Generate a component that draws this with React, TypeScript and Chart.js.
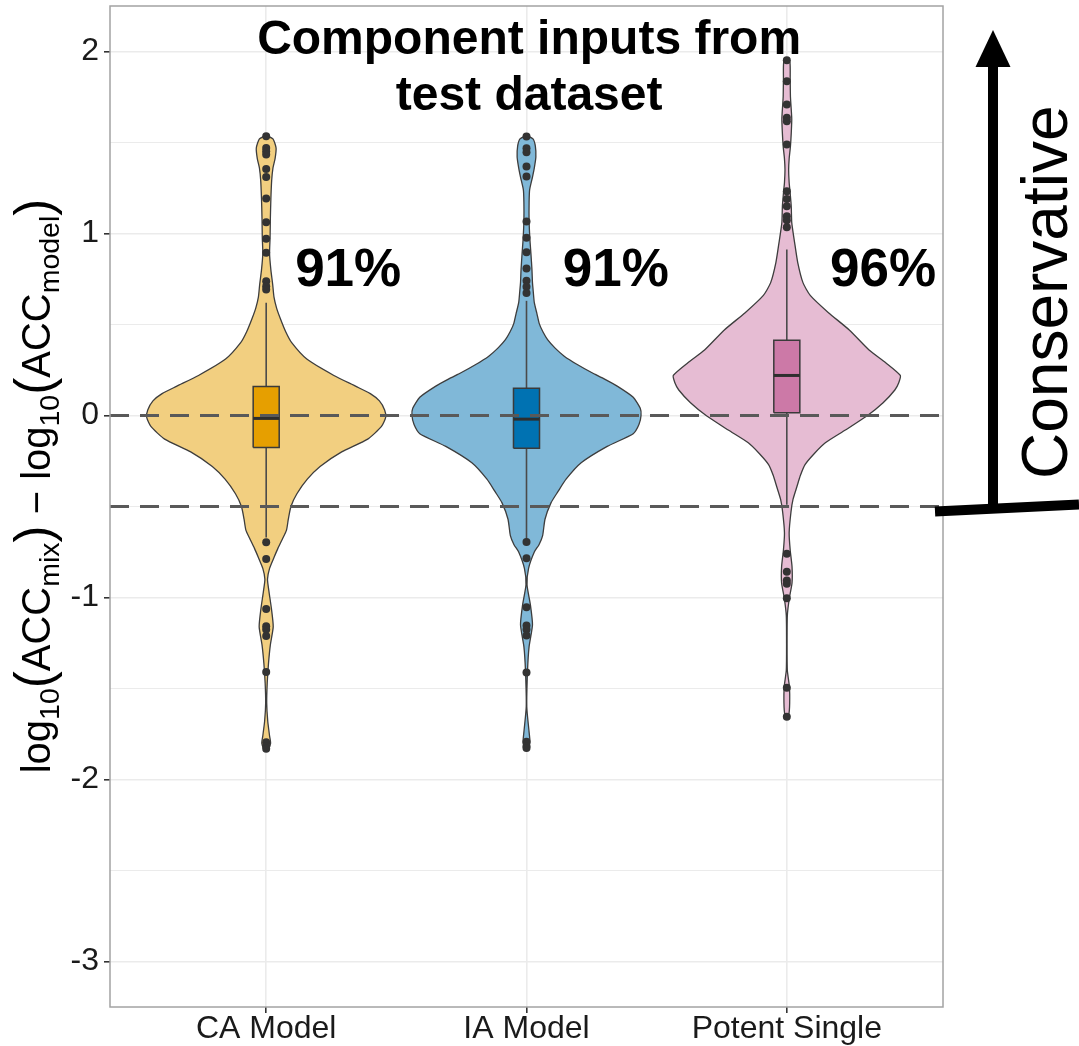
import React, { useEffect, useRef } from 'react';
import { Chart, registerables } from 'chart.js';

Chart.register(...registerables);

// ---- data ----
const categories = ['CA Model', 'IA Model', 'Potent Single'];
const categoryPositions = [1, 2, 3];
const xLimits = [0.4, 3.6];
const yLimits = [-3.25, 2.25];
const yTickValues = [-3, -2.5, -2, -1.5, -1, -0.5, 0, 0.5, 1, 1.5, 2];
const referenceLines = [0, -0.5];

const percentLabels = ['91%', '91%', '96%'];
const percentX = [1.315, 2.343, 3.37];
const percentY = 0.71;

const titleLines = ['Component inputs from', 'test dataset'];
const titleX = 2.01;
const titleY = [1.984, 1.676];

// boxplot statistics per category
const boxQ1 = [-0.176, -0.18, 0.015];
const boxMedian = [-0.016, -0.02, 0.22];
const boxQ3 = [0.16, 0.15, 0.414];
const whiskerLow = [-0.67, -0.68, -0.49];
const whiskerHigh = [0.62, 0.63, 0.912];
const boxHalfWidth = 0.05;

// outlying observations
const caOutliers = [1.535, 1.47, 1.452, 1.434, 1.355, 1.311, 1.192, 1.062, 0.971, 0.894, 0.738, 0.71, 0.692,
  -0.696, -0.788, -1.063, -1.158, -1.176, -1.212, -1.41, -1.795, -1.817, -1.831];
const iaOutliers = [1.533, 1.469, 1.447, 1.368, 1.313, 1.066, 0.976, 0.897, 0.808, 0.74, 0.707, 0.673,
  -0.695, -0.785, -1.054, -1.154, -1.176, -1.209, -1.412, -1.793, -1.816, -1.827];
const potentOutliers = [1.952, 1.837, 1.709, 1.636, 1.617, 1.489, 1.232, 1.19, 1.15, 1.095, 1.073, 1.035,
  -0.76, -0.859, -0.907, -0.925, -1.004, -1.496, -1.655];

// violin density profiles: levels (top to bottom) and half widths in category units
const caLevels = [1.54, 1.52, 1.47, 1.41, 1.36, 1.29, 1.19, 1.08, 0.98, 0.89, 0.8, 0.72, 0.65, 0.59, 0.53, 0.46,
  0.4, 0.31, 0.22, 0.16, 0.12, 0.08, 0.03, -0.01, -0.06, -0.13, -0.2, -0.28, -0.35, -0.43, -0.5, -0.57, -0.63,
  -0.68, -0.73, -0.78, -0.84, -0.9, -0.97, -1.06, -1.16, -1.26, -1.36, -1.47, -1.58, -1.68, -1.76, -1.8, -1.825, -1.835];
const caHalfWidth = [0, 0.026, 0.038, 0.034, 0.026, 0.021, 0.018, 0.016, 0.015, 0.013, 0.018, 0.025, 0.03, 0.04,
  0.055, 0.075, 0.098, 0.156, 0.26, 0.345, 0.4, 0.435, 0.455, 0.459, 0.443, 0.39, 0.29, 0.207, 0.158, 0.118,
  0.095, 0.085, 0.078, 0.062, 0.045, 0.03, 0.013, 0.005, 0.011, 0.02, 0.027, 0.016, 0.009, 0.004, 0.002, 0.006,
  0.013, 0.017, 0.01, 0];

const iaLevels = [1.54, 1.52, 1.48, 1.42, 1.36, 1.31, 1.24, 1.17, 1.07, 0.97, 0.89, 0.8, 0.73, 0.68, 0.62, 0.56,
  0.505, 0.46, 0.417, 0.37, 0.326, 0.28, 0.236, 0.2, 0.16, 0.1, 0.04, 0, -0.05, -0.1, -0.17, -0.26, -0.35, -0.42,
  -0.48, -0.57, -0.66, -0.71, -0.75, -0.84, -0.93, -1.04, -1.15, -1.27, -1.4, -1.6, -1.74, -1.8, -1.83];
const iaHalfWidth = [0, 0.025, 0.034, 0.036, 0.03, 0.023, 0.012, 0.01, 0.01, 0.013, 0.017, 0.021, 0.023, 0.026,
  0.03, 0.04, 0.049, 0.063, 0.081, 0.11, 0.145, 0.195, 0.25, 0.3, 0.35, 0.41, 0.437, 0.44, 0.432, 0.41, 0.31,
  0.21, 0.152, 0.12, 0.094, 0.071, 0.062, 0.048, 0.03, 0.008, 0.002, 0.015, 0.023, 0.01, 0.004, 0.001, 0.01,
  0.013, 0];

const potentLevels = [1.965, 1.94, 1.85, 1.75, 1.63, 1.55, 1.48, 1.41, 1.35, 1.28, 1.22, 1.15, 1.06, 0.95, 0.84,
  0.73, 0.66, 0.565, 0.47, 0.36, 0.29, 0.22, 0.18, 0.14, 0.07, 0, -0.08, -0.15, -0.21, -0.27, -0.33, -0.39, -0.46,
  -0.53, -0.645, -0.74, -0.83, -0.92, -1.01, -1.1, -1.25, -1.4, -1.49, -1.58, -1.64, -1.66];
const potentHalfWidth = [0, 0.012, 0.013, 0.014, 0.019, 0.017, 0.014, 0.009, 0.007, 0.009, 0.013, 0.017, 0.019,
  0.03, 0.042, 0.062, 0.09, 0.16, 0.24, 0.316, 0.38, 0.436, 0.43, 0.415, 0.37, 0.31, 0.225, 0.148, 0.105, 0.07,
  0.052, 0.039, 0.024, 0.016, 0.009, 0.013, 0.02, 0.02, 0.009, 0.002, 0.001, 0.002, 0.01, 0.011, 0.008, 0];

// ---- styling ----
const FONT = "'Liberation Sans', Arial, Helvetica, sans-serif";
const violinFill = ['#f2cf80', '#80b8d8', '#e6bcd3'];
const boxFill = ['#e69f00', '#0072b2', '#cc79a7'];
const outlineColor = '#3d3d3d';

const violins = [
  { levels: caLevels, half: caHalfWidth },
  { levels: iaLevels, half: iaHalfWidth },
  { levels: potentLevels, half: potentHalfWidth },
];
const outliers = [caOutliers, iaOutliers, potentOutliers];

function violinOutline(center: number, levels: number[], half: number[]) {
  const right = levels.map((y, i) => ({ x: center + half[i], y }));
  const left = levels.map((y, i) => ({ x: center - half[i], y })).reverse();
  return [...right, ...left];
}

function boxOutline(i: number) {
  const c = categoryPositions[i];
  return [
    { x: c - boxHalfWidth, y: boxQ1[i] },
    { x: c + boxHalfWidth, y: boxQ1[i] },
    { x: c + boxHalfWidth, y: boxQ3[i] },
    { x: c - boxHalfWidth, y: boxQ3[i] },
    { x: c - boxHalfWidth, y: boxQ1[i] },
  ];
}

function buildDatasets() {
  const ds: any[] = [];
  categoryPositions.forEach((c, i) => {
    ds.push({
      type: 'line',
      data: violinOutline(c, violins[i].levels, violins[i].half),
      fill: 'shape',
      backgroundColor: violinFill[i],
      borderColor: outlineColor,
      borderWidth: 1.3,
      tension: 0.2,
      pointRadius: 0,
      order: 10,
    });
    ds.push({
      type: 'line',
      data: [{ x: c, y: whiskerLow[i] }, { x: c, y: whiskerHigh[i] }],
      borderColor: '#4a4a4a',
      borderWidth: 1.6,
      pointRadius: 0,
      fill: false,
      order: 8,
    });
    ds.push({
      type: 'line',
      data: boxOutline(i),
      fill: 'shape',
      backgroundColor: boxFill[i],
      borderColor: '#3a3a3a',
      borderWidth: 1.5,
      pointRadius: 0,
      order: 7,
    });
    ds.push({
      type: 'line',
      data: [{ x: c - boxHalfWidth, y: boxMedian[i] }, { x: c + boxHalfWidth, y: boxMedian[i] }],
      borderColor: '#2e2e2e',
      borderWidth: 3,
      pointRadius: 0,
      fill: false,
      order: 6,
    });
  });
  referenceLines.forEach((v) => {
    ds.push({
      type: 'line',
      data: [{ x: xLimits[0], y: v }, { x: xLimits[1], y: v }],
      borderColor: '#595959',
      borderWidth: 3,
      borderDash: [19, 11],
      pointRadius: 0,
      fill: false,
      order: 4,
    });
  });
  categoryPositions.forEach((c, i) => {
    ds.push({
      type: 'line',
      data: outliers[i].map((y) => ({ x: c, y })),
      showLine: false,
      pointRadius: 4,
      pointBackgroundColor: '#333333',
      pointBorderWidth: 0,
      order: 1,
    });
  });
  return ds;
}

function drawMathTitle(ctx: CanvasRenderingContext2D, cx: number, cy: number) {
  const base = 40;
  const sub = 28.5;
  const paren = 51;
  const parts = [
    { t: 'log', s: base, dy: 0 },
    { t: '10', s: sub, dy: 9 },
    { t: '(', s: paren, dy: 1 },
    { t: 'ACC', s: base, dy: 0 },
    { t: 'mix', s: sub, dy: 9 },
    { t: ')', s: paren, dy: 1 },
    { t: ' \u2212 ', s: base, dy: 0 },
    { t: 'log', s: base, dy: 0 },
    { t: '10', s: sub, dy: 9 },
    { t: '(', s: paren, dy: 1 },
    { t: 'ACC', s: base, dy: 0 },
    { t: 'model', s: sub, dy: 9 },
    { t: ')', s: paren, dy: 1 },
  ];
  ctx.save();
  ctx.translate(cx, cy);
  ctx.rotate(-Math.PI / 2);
  ctx.fillStyle = '#000';
  ctx.textBaseline = 'alphabetic';
  ctx.textAlign = 'left';
  const widths = parts.map((p) => {
    ctx.font = `${p.s}px ${FONT}`;
    return ctx.measureText(p.t).width;
  });
  const total = widths.reduce((a, b) => a + b, 0);
  let x = -total / 2;
  parts.forEach((p, i) => {
    ctx.font = `${p.s}px ${FONT}`;
    ctx.fillText(p.t, x, p.dy);
    x += widths[i];
  });
  ctx.restore();
}

const overlayPlugin = {
  id: 'overlay',
  afterDatasetsDraw(chart: any) {
    const { ctx, chartArea } = chart;
    ctx.save();
    ctx.strokeStyle = '#a3a3a3';
    ctx.lineWidth = 1.5;
    ctx.strokeRect(chartArea.left, chartArea.top, chartArea.right - chartArea.left, chartArea.bottom - chartArea.top);
    ctx.restore();
  },
  afterDraw(chart: any) {
    const { ctx, chartArea, scales } = chart;
    const xs = scales.x;
    const ys = scales.y;
    ctx.save();

    // heading inside the panel
    ctx.fillStyle = '#000';
    ctx.textAlign = 'center';
    ctx.textBaseline = 'alphabetic';
    ctx.font = `bold 48px ${FONT}`;
    titleLines.forEach((line, i) => {
      ctx.fillText(line, xs.getPixelForValue(titleX), ys.getPixelForValue(titleY[i]));
    });

    // share labels
    ctx.font = `bold 53px ${FONT}`;
    percentLabels.forEach((lab, i) => {
      ctx.fillText(lab, xs.getPixelForValue(percentX[i]), ys.getPixelForValue(percentY));
    });

    // "Conservative" arrow to the right of the panel
    const yBase = ys.getPixelForValue(referenceLines[1]);
    const shaftX = chartArea.right + 50;
    ctx.strokeStyle = '#000';
    ctx.lineCap = 'butt';
    ctx.lineWidth = 10;
    ctx.beginPath();
    ctx.moveTo(chartArea.right - 8, yBase + 5);
    ctx.lineTo(chart.width, yBase - 2);
    ctx.stroke();
    ctx.beginPath();
    ctx.moveTo(shaftX, yBase + 3);
    ctx.lineTo(shaftX, 62);
    ctx.stroke();
    ctx.fillStyle = '#000';
    ctx.beginPath();
    ctx.moveTo(shaftX, 30);
    ctx.lineTo(shaftX - 17.5, 67);
    ctx.lineTo(shaftX + 17.5, 67);
    ctx.closePath();
    ctx.fill();

    ctx.save();
    ctx.translate(shaftX + 74, (30 + yBase) / 2 + 24);
    ctx.rotate(-Math.PI / 2);
    ctx.font = `64px ${FONT}`;
    ctx.textAlign = 'center';
    ctx.textBaseline = 'alphabetic';
    ctx.fillText('Conservative', 0, 0);
    ctx.restore();

    // y-axis title with subscripts
    drawMathTitle(ctx, 50, 486);
    ctx.restore();
  },
};

function noEdgePadding(s: any) {
  s.paddingTop = 0;
  s.paddingBottom = 0;
  s.paddingLeft = 0;
  s.paddingRight = 0;
}

export default function App() {
  const canvasRef = useRef<HTMLCanvasElement | null>(null);

  useEffect(() => {
    const canvas = canvasRef.current;
    if (!canvas) return;
    const tickFont = { family: FONT, size: 32 };
    const chart = new Chart(canvas, {
      type: 'line',
      data: { datasets: buildDatasets() },
      options: {
        animation: false,
        responsive: false,
        maintainAspectRatio: false,
        events: [],
        layout: { padding: { left: 0, right: 136, top: 6, bottom: 0 } },
        plugins: { legend: { display: false }, tooltip: { enabled: false } },
        scales: {
          x: {
            type: 'linear',
            min: xLimits[0],
            max: xLimits[1],
            afterBuildTicks: (s: any) => {
              s.ticks = categoryPositions.map((v) => ({ value: v }));
            },
            afterFit: (s: any) => {
              s.height = 39;
              noEdgePadding(s);
            },
            ticks: {
              callback: (v: any) => categories[categoryPositions.indexOf(Number(v))] ?? '',
              font: tickFont,
              color: '#1a1a1a',
              padding: -3,
              autoSkip: false,
              maxRotation: 0,
            },
            grid: { color: '#ebebeb', lineWidth: 1.6, tickLength: 6, tickColor: '#333333' },
            border: { display: false },
          },
          y: {
            type: 'linear',
            min: yLimits[0],
            max: yLimits[1],
            afterBuildTicks: (s: any) => {
              s.ticks = yTickValues.map((v) => ({ value: v }));
            },
            afterFit: (s: any) => {
              s.width = 110;
              noEdgePadding(s);
            },
            ticks: {
              callback: (v: any) => (Number.isInteger(Number(v)) ? String(v) : ''),
              font: tickFont,
              color: '#1a1a1a',
              padding: 5,
              autoSkip: false,
            },
            grid: {
              color: '#ebebeb',
              lineWidth: (c: any) => (Number.isInteger(c.tick?.value) ? 1.6 : 1.1),
              tickLength: 6,
              tickColor: (c: any) => (Number.isInteger(c.tick?.value) ? '#333333' : 'rgba(0,0,0,0)'),
            },
            border: { display: false },
          },
        },
      } as any,
      plugins: [overlayPlugin],
    });
    return () => chart.destroy();
  }, []);

  return (
    <div style={{ position: 'absolute', left: 0, top: 0, width: 1079, height: 1046, background: '#fff' }}>
      <canvas ref={canvasRef} width={1079} height={1046} style={{ display: 'block' }} />
    </div>
  );
}
